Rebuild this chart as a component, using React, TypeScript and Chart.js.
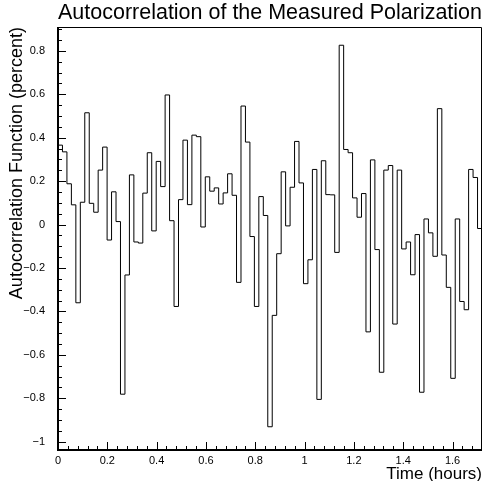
import React, { useEffect, useRef } from 'react';
import { Chart, registerables } from 'chart.js';

Chart.register(...registerables);

// ---- data ----
const binWidth = 0.0181; // hours per bin
const values = [
  0.366, 0.335, 0.188, 0.091, -0.36, 0.103, 0.515, 0.098, 0.057, 0.251,
  0.357, -0.071, 0.151, 0.014, -0.781, -0.232, 0.229, -0.08, -0.085, 0.145,
  0.331, -0.029, 0.291, 0.175, 0.597, 0.018, -0.377, 0.115, 0.389, 0.092,
  0.412, 0.405, -0.011, 0.22, 0.154, 0.169, 0.095, 0.146, 0.234, 0.135,
  -0.266, 0.546, 0.38, -0.055, -0.377, 0.129, 0.042, -0.931, -0.418, -0.134,
  0.243, -0.006, 0.172, 0.383, 0.192, -0.272, -0.162, 0.254, -0.805, 0.294,
  0.138, 0.137, -0.128, 0.826, 0.346, 0.331, 0.123, 0.034, 0.143, -0.494,
  0.298, -0.115, -0.68, 0.251, 0.272, -0.458, 0.251, -0.112, -0.08, -0.231,
  -0.046, -0.772, 0.026, -0.038, -0.146, 0.534, -0.14, -0.289, -0.708, 0.026,
  -0.354, -0.392, 0.254, 0.217, -0.018,
];

const xTickValues = [0, 0.2, 0.4, 0.6, 0.8, 1, 1.2, 1.4, 1.6];
const xTickLabels = ['0', '0.2', '0.4', '0.6', '0.8', '1', '1.2', '1.4', '1.6'];
const yTickValues = [-1, -0.8, -0.6, -0.4, -0.2, 0, 0.2, 0.4, 0.6, 0.8];
const yTickLabels = ['\u22121', '\u22120.8', '\u22120.6', '\u22120.4', '\u22120.2', '0', '0.2', '0.4', '0.6', '0.8'];
const xMinorDivisions = 5;
const yMinorDivisions = 4;
const yMin = -1.038;
const yMax = 0.91;
const xMin = 0;
const xMax = values.length * binWidth;

const chartTitle = 'Autocorrelation of the Measured Polarization';
const xTitle = 'Time (hours)';
const yTitle = 'Autocorrelation Function (percent)';

const FONT = "'Liberation Sans', Arial, sans-serif";

function minorTicks(majors: number[], divisions: number, lo: number, hi: number) {
  const step = (majors[1] - majors[0]) / divisions;
  const out: { v: number; major: boolean }[] = [];
  const start = majors[0];
  for (let k = -50; k < 500; k++) {
    const v = start + k * step;
    if (v < lo - 1e-9 || v > hi + 1e-9) continue;
    out.push({ v, major: ((k % divisions) + divisions) % divisions === 0 });
  }
  return out;
}

const framePlugin = {
  id: 'rootFrame',
  afterDatasetsDraw(chart: any) {
    const { ctx, chartArea: a, scales } = chart;
    const xs = scales.x;
    const ys = scales.y;
    ctx.save();
    ctx.strokeStyle = '#000';
    ctx.lineWidth = 1;
    ctx.beginPath();
    for (const t of minorTicks(yTickValues, yMinorDivisions, yMin, yMax)) {
      const py = Math.round(ys.getPixelForValue(t.v)) + 0.5;
      ctx.moveTo(a.left, py);
      ctx.lineTo(a.left + (t.major ? 8 : 4), py);
    }
    for (const t of minorTicks(xTickValues, xMinorDivisions, xMin, xMax)) {
      const px = Math.round(xs.getPixelForValue(t.v)) + 0.5;
      ctx.moveTo(px, a.bottom);
      ctx.lineTo(px, a.bottom - (t.major ? 8 : 4));
    }
    ctx.stroke();
    // frame: top/right thin
    ctx.beginPath();
    ctx.moveTo(a.left, Math.round(a.top) + 0.5);
    ctx.lineTo(Math.round(a.right) - 0.5, Math.round(a.top) + 0.5);
    ctx.lineTo(Math.round(a.right) - 0.5, a.bottom);
    ctx.stroke();
    // left/bottom axes thicker
    ctx.lineWidth = 2;
    ctx.beginPath();
    ctx.moveTo(Math.round(a.left), Math.round(a.top));
    ctx.lineTo(Math.round(a.left), Math.round(a.bottom));
    ctx.lineTo(Math.round(a.right), Math.round(a.bottom));
    ctx.stroke();
    ctx.restore();
  },
};

export default function App() {
  const ref = useRef<HTMLCanvasElement | null>(null);
  useEffect(() => {
    document.body.style.margin = '0';
    const canvas = ref.current;
    if (!canvas) return;
    const points = values.map((v, i) => ({ x: xMin + i * binWidth, y: v }));
    points.push({ x: xMin + values.length * binWidth, y: values[values.length - 1] });

    const chart = new Chart(canvas, {
      type: 'line',
      data: {
        datasets: [
          {
            data: points,
            stepped: true,
            borderColor: '#000',
            borderWidth: 1,
            pointRadius: 0,
            fill: false,
            tension: 0,
          },
        ],
      },
      options: {
        animation: false,
        responsive: false,
        devicePixelRatio: 1,
        layout: { padding: { left: 0, right: 2, top: 0, bottom: 0 } },
        plugins: {
          legend: { display: false },
          tooltip: { enabled: false },
          title: {
            display: true,
            text: chartTitle,
            fullSize: false,
            color: '#000',
            font: { family: FONT, size: 21.5, weight: 'normal', lineHeight: 1.2 },
            padding: { top: 0, bottom: 1.2 },
          },
        },
        scales: {
          x: {
            type: 'linear',
            min: xMin,
            max: xMax,
            afterFit: (s: any) => {
              s.height = 31;
            },
            afterBuildTicks: (s: any) => {
              s.ticks = xTickValues.map((v) => ({ value: v }));
            },
            grid: { display: false, drawTicks: false },
            border: { display: false },
            ticks: {
              color: '#000',
              font: { family: FONT, size: 11 },
              padding: 4,
              maxRotation: 0,
              autoSkip: false,
              callback: (_v: any, i: number) => xTickLabels[i],
            },
            title: {
              display: true,
              text: xTitle,
              align: 'end',
              color: '#000',
              font: { family: FONT, size: 17, lineHeight: 1 },
              padding: { top: 0, bottom: -2 },
            },
          },
          y: {
            type: 'linear',
            min: yMin,
            max: yMax,
            afterFit: (s: any) => {
              s.width = 58;
            },
            afterBuildTicks: (s: any) => {
              s.ticks = yTickValues.map((v) => ({ value: v }));
            },
            grid: { display: false, drawTicks: false },
            border: { display: false },
            ticks: {
              color: '#000',
              font: { family: FONT, size: 11 },
              padding: 13,
              autoSkip: false,
              callback: (_v: any, i: number) => yTickLabels[i],
            },
            title: {
              display: true,
              text: yTitle,
              align: 'end',
              color: '#000',
              font: { family: FONT, size: 18, lineHeight: 1 },
              padding: { top: 8, bottom: 0 },
            },
          },
        },
      },
      plugins: [framePlugin],
    });
    return () => chart.destroy();
  }, []);

  return (
    <div style={{ position: 'absolute', left: 0, top: 0, width: 484, height: 481, background: '#fff' }}>
      <canvas ref={ref} width={484} height={481} style={{ display: 'block' }} />
    </div>
  );
}
